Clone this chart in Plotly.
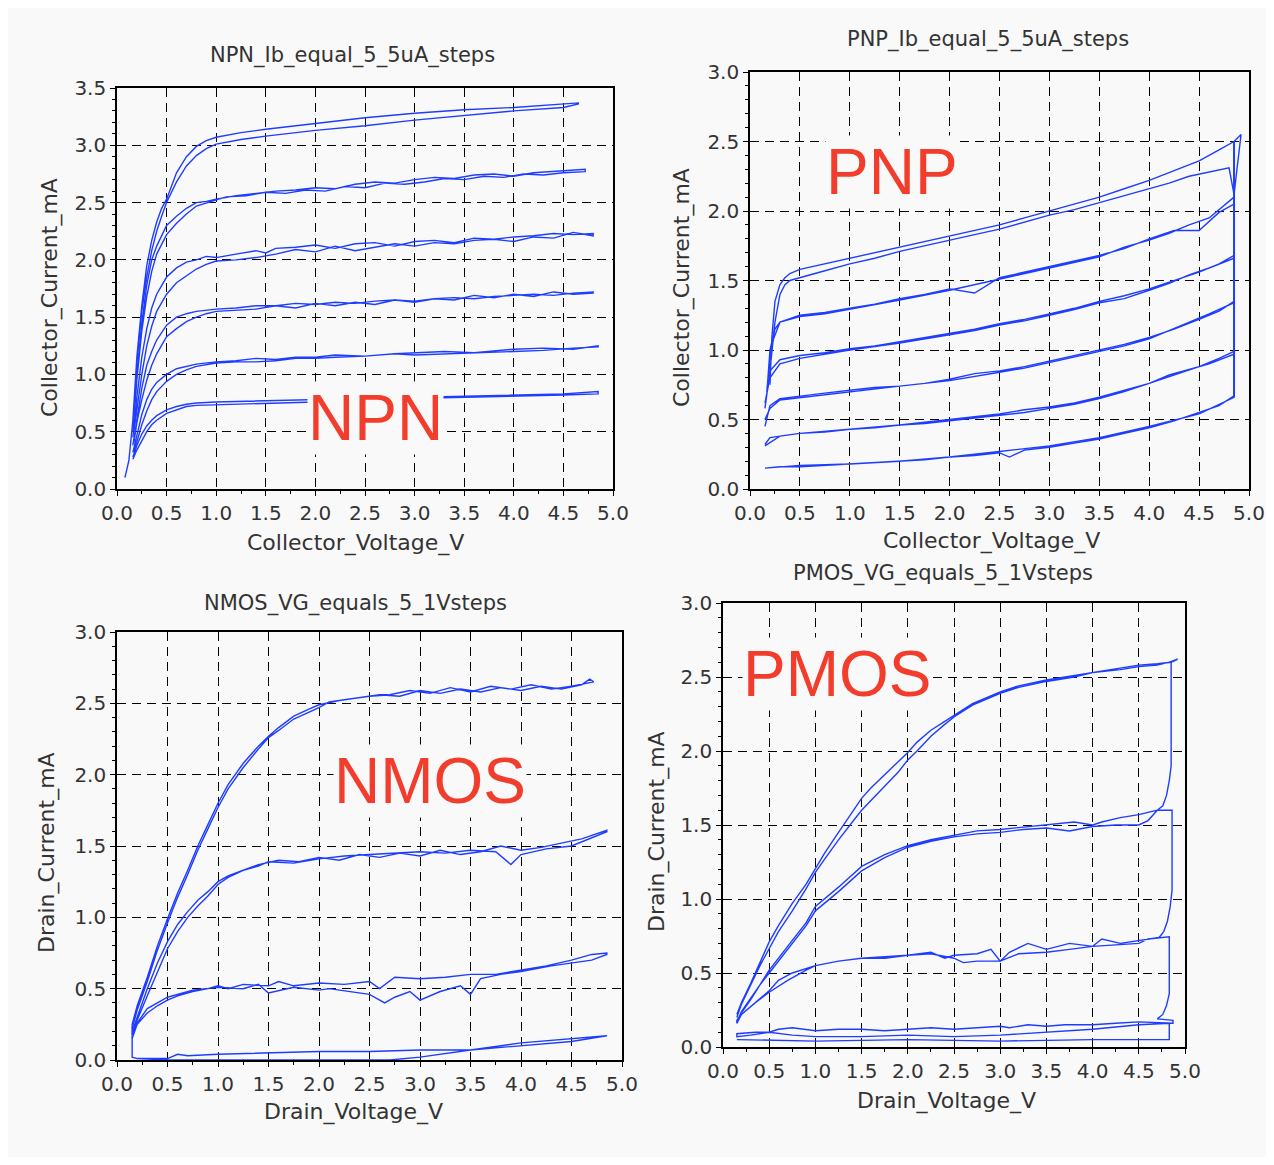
import plotly.graph_objects as go

# ---------------- DATA ----------------
# NPN: collector voltage (V) / collector current (mA); forward (f) and return (r) sweeps
npn1_fv = [0.16,0.2,0.25,0.3,0.35,0.4,0.5,0.6,0.7,0.8,1.0,1.5,2.0,2.5,3.0,3.5,4.0,4.5,4.85]
npn1_fi = [0.28,0.38,0.48,0.55,0.6,0.64,0.69,0.72,0.74,0.75,0.76,0.77,0.78,0.79,0.8,0.81,0.82,0.83,0.85]
npn1_rv = [4.85,4.5,4.0,3.5,3.0,2.5,2.0,1.5,1.0,0.8,0.7,0.6,0.5,0.4,0.35,0.3,0.25,0.2,0.16]
npn1_ri = [0.83,0.82,0.81,0.8,0.79,0.78,0.76,0.75,0.74,0.73,0.72,0.69,0.66,0.6,0.56,0.5,0.42,0.34,0.26]

npn2_fv = [0.16,0.2,0.25,0.3,0.35,0.4,0.5,0.6,0.7,0.8,1.0,1.2,1.4,1.6,1.8,2.0,2.2,2.5,2.8,3.0,3.3,3.6,4.0,4.3,4.6,4.85]
npn2_fi = [0.32,0.48,0.65,0.78,0.87,0.93,1.0,1.05,1.07,1.09,1.11,1.12,1.14,1.13,1.15,1.15,1.17,1.16,1.18,1.19,1.2,1.19,1.22,1.23,1.22,1.25]
npn2_rv = [4.85,4.6,4.3,4.0,3.6,3.3,3.0,2.8,2.5,2.2,2.0,1.8,1.6,1.4,1.2,1.0,0.8,0.7,0.6,0.5,0.4,0.35,0.3,0.25,0.2,0.17]
npn2_ri = [1.24,1.23,1.21,1.2,1.19,1.18,1.17,1.18,1.16,1.15,1.14,1.14,1.12,1.11,1.11,1.1,1.07,1.04,1.0,0.94,0.85,0.78,0.68,0.56,0.42,0.32]

npn3_fv = [0.16,0.2,0.25,0.3,0.35,0.4,0.5,0.6,0.7,0.8,0.9,1.0,1.2,1.4,1.6,1.8,2.0,2.2,2.4,2.6,2.8,3.0,3.2,3.4,3.6,3.8,4.0,4.2,4.4,4.6,4.8]
npn3_fi = [0.38,0.62,0.88,1.08,1.2,1.3,1.43,1.5,1.53,1.55,1.56,1.57,1.58,1.6,1.6,1.62,1.61,1.63,1.62,1.64,1.65,1.64,1.66,1.67,1.66,1.68,1.69,1.7,1.69,1.71,1.72]
npn3_rv = [4.8,4.6,4.4,4.2,4.0,3.8,3.6,3.4,3.2,3.0,2.8,2.6,2.4,2.2,2.0,1.8,1.6,1.4,1.2,1.0,0.9,0.8,0.7,0.6,0.5,0.4,0.35,0.3,0.25,0.2,0.17]
npn3_ri = [1.71,1.7,1.72,1.68,1.7,1.67,1.69,1.65,1.66,1.63,1.65,1.61,1.63,1.6,1.62,1.58,1.6,1.57,1.56,1.55,1.53,1.5,1.46,1.4,1.33,1.18,1.08,0.95,0.78,0.58,0.4]

npn4_fv = [0.16,0.2,0.25,0.3,0.35,0.4,0.5,0.6,0.7,0.8,0.9,1.0,1.2,1.4,1.5,1.6,1.8,2.0,2.2,2.4,2.6,2.8,3.0,3.2,3.4,3.6,3.8,4.0,4.2,4.4,4.6,4.8]
npn4_fi = [0.45,0.8,1.15,1.4,1.58,1.7,1.85,1.93,1.98,2.0,2.03,2.02,2.05,2.08,2.06,2.1,2.11,2.13,2.1,2.14,2.15,2.12,2.16,2.17,2.15,2.19,2.18,2.2,2.21,2.23,2.22,2.23]
npn4_rv = [4.8,4.6,4.4,4.2,4.0,3.8,3.6,3.4,3.2,3.0,2.8,2.6,2.4,2.2,2.0,1.8,1.6,1.4,1.2,1.0,0.9,0.8,0.7,0.6,0.5,0.4,0.35,0.3,0.25,0.2,0.17]
npn4_ri = [2.21,2.24,2.19,2.2,2.16,2.18,2.17,2.14,2.15,2.12,2.14,2.11,2.08,2.12,2.07,2.09,2.05,2.02,2.0,1.99,1.96,1.92,1.86,1.8,1.7,1.55,1.42,1.25,1.0,0.7,0.5]

npn5_fv = [0.16,0.2,0.25,0.3,0.35,0.4,0.5,0.6,0.7,0.8,0.9,1.0,1.2,1.4,1.6,1.8,2.0,2.2,2.4,2.6,2.8,3.0,3.2,3.4,3.6,3.8,4.0,4.2,4.4,4.6,4.72]
npn5_fi = [0.5,1.0,1.45,1.78,2.0,2.12,2.3,2.38,2.45,2.5,2.51,2.53,2.56,2.58,2.6,2.61,2.63,2.62,2.66,2.68,2.67,2.7,2.72,2.71,2.74,2.75,2.73,2.76,2.77,2.78,2.79]
npn5_rv = [4.72,4.5,4.3,4.1,3.9,3.7,3.5,3.3,3.1,2.9,2.7,2.5,2.3,2.1,1.9,1.7,1.5,1.3,1.1,0.9,0.8,0.7,0.6,0.5,0.4,0.35,0.3,0.25,0.2,0.17]
npn5_ri = [2.77,2.76,2.74,2.75,2.72,2.73,2.7,2.71,2.68,2.66,2.67,2.63,2.64,2.6,2.61,2.58,2.59,2.56,2.55,2.5,2.47,2.4,2.32,2.22,2.05,1.9,1.68,1.38,0.95,0.6]

npn6_fv = [0.08,0.12,0.16,0.2,0.25,0.3,0.35,0.4,0.45,0.5,0.6,0.7,0.8,0.9,1.0,1.25,1.5,2.0,2.5,3.0,3.5,4.0,4.5,4.65]
npn6_fi = [0.1,0.25,0.6,1.15,1.6,1.95,2.17,2.33,2.45,2.53,2.76,2.9,2.99,3.04,3.07,3.11,3.14,3.19,3.24,3.28,3.31,3.33,3.36,3.37]
npn6_rv = [4.65,4.5,4.0,3.5,3.0,2.5,2.0,1.5,1.25,1.0,0.9,0.8,0.7,0.6,0.5,0.45,0.4,0.35,0.3,0.25,0.2,0.17]
npn6_ri = [3.36,3.33,3.3,3.26,3.22,3.17,3.13,3.08,3.05,3.01,2.97,2.91,2.82,2.68,2.5,2.38,2.25,2.08,1.85,1.55,1.1,0.7]

# PNP
pnp1_fv = [0.15,0.3,0.5,0.75,1.0,1.25,1.5,1.75,2.0,2.25,2.5,2.6,2.75,3.0,3.25,3.5,3.75,4.0,4.25,4.5,4.7,4.85]
pnp1_fi = [0.15,0.16,0.16,0.17,0.18,0.19,0.2,0.21,0.23,0.24,0.26,0.23,0.28,0.3,0.33,0.36,0.4,0.44,0.49,0.55,0.6,0.67]
pnp1_rv = [4.85,4.5,4.0,3.5,3.0,2.5,2.0,1.5,1.0,0.5,0.15]
pnp1_ri = [0.66,0.54,0.45,0.37,0.31,0.27,0.23,0.2,0.18,0.17,0.15]

pnp2_fv = [0.15,0.2,0.3,0.5,0.75,1.0,1.25,1.5,1.75,2.0,2.25,2.5,2.75,3.0,3.25,3.5,3.75,4.0,4.25,4.5,4.7,4.85]
pnp2_fi = [0.32,0.37,0.38,0.4,0.41,0.43,0.44,0.46,0.47,0.49,0.51,0.53,0.55,0.58,0.61,0.65,0.7,0.76,0.82,0.88,0.94,0.99]
pnp2_rv = [4.85,4.6,4.4,4.2,4.0,3.75,3.5,3.25,3.0,2.75,2.5,2.25,2.0,1.5,1.0,0.5,0.3,0.15]
pnp2_ri = [0.97,0.9,0.86,0.82,0.76,0.71,0.66,0.62,0.59,0.57,0.54,0.52,0.5,0.46,0.43,0.4,0.38,0.31]

pnp3_fv = [0.15,0.2,0.3,0.5,0.75,1.0,1.25,1.5,1.75,2.0,2.25,2.5,2.75,3.0,3.25,3.5,3.75,4.0,4.25,4.5,4.7,4.85]
pnp3_fi = [0.45,0.6,0.65,0.67,0.69,0.71,0.73,0.74,0.76,0.79,0.83,0.85,0.88,0.92,0.96,1.0,1.04,1.09,1.15,1.22,1.28,1.35]
pnp3_rv = [4.85,4.6,4.4,4.2,4.0,3.75,3.5,3.25,3.0,2.75,2.5,2.25,2.0,1.5,1.0,0.75,0.5,0.3,0.2,0.15]
pnp3_ri = [1.34,1.26,1.2,1.14,1.08,1.03,0.99,0.95,0.91,0.87,0.84,0.81,0.78,0.74,0.7,0.68,0.66,0.64,0.58,0.5]

pnp4_fv = [0.15,0.2,0.3,0.5,0.75,1.0,1.25,1.5,1.75,2.0,2.25,2.5,2.75,3.0,3.25,3.5,3.75,4.0,4.25,4.5,4.7,4.85]
pnp4_fi = [0.58,0.85,0.93,0.96,0.98,1.01,1.03,1.06,1.09,1.12,1.15,1.19,1.22,1.26,1.3,1.35,1.39,1.44,1.5,1.56,1.62,1.68]
pnp4_rv = [4.85,4.6,4.4,4.2,4.0,3.75,3.5,3.25,3.0,2.75,2.5,2.25,2.0,1.5,1.0,0.75,0.5,0.3,0.2,0.15]
pnp4_ri = [1.66,1.59,1.54,1.48,1.43,1.37,1.34,1.29,1.25,1.21,1.18,1.14,1.11,1.05,1.0,0.97,0.94,0.9,0.8,0.62]

pnp5_fv = [0.17,0.2,0.25,0.3,0.5,0.75,1.0,1.25,1.5,1.75,2.0,2.25,2.5,2.75,3.0,3.25,3.5,3.75,4.0,4.25,4.5,4.7,4.85]
pnp5_fi = [0.7,1.0,1.15,1.2,1.25,1.27,1.3,1.33,1.37,1.4,1.44,1.41,1.52,1.56,1.6,1.64,1.68,1.73,1.8,1.86,1.86,1.99,2.05]
pnp5_rv = [4.85,4.6,4.4,4.2,4.0,3.75,3.5,3.25,3.0,2.75,2.5,2.25,2.0,1.5,1.0,0.75,0.5,0.3,0.22,0.17]
pnp5_ri = [2.1,1.95,1.9,1.84,1.79,1.74,1.67,1.63,1.59,1.55,1.51,1.47,1.43,1.36,1.29,1.26,1.24,1.2,1.05,0.72]

pnp6_fv = [0.2,0.22,0.25,0.3,0.35,0.4,0.5,0.75,1.0,1.25,1.5,1.75,2.0,2.25,2.5,2.75,3.0,3.25,3.5,3.75,4.0,4.25,4.5,4.7,4.85,4.92]
pnp6_fi = [0.75,1.1,1.35,1.47,1.52,1.55,1.58,1.62,1.66,1.7,1.74,1.78,1.82,1.86,1.9,1.95,2.0,2.05,2.1,2.16,2.22,2.29,2.36,2.44,2.5,2.55]
pnp6_rv = [4.85,4.8,4.6,4.4,4.2,4.0,3.75,3.5,3.25,3.0,2.75,2.5,2.25,2.0,1.75,1.5,1.25,1.0,0.75,0.5,0.4,0.35,0.3,0.25,0.2]
pnp6_ri = [2.12,2.31,2.28,2.25,2.2,2.16,2.11,2.06,2.01,1.97,1.92,1.87,1.83,1.79,1.75,1.71,1.66,1.62,1.57,1.52,1.5,1.47,1.4,1.2,0.85]

pnp_step_v = [4.85,4.85]
pnp_step_i = [0.66,2.5]

# NMOS: drain voltage (V) / drain current (mA)
nmos1_fv = [0.15,0.2,0.3,0.4,0.5,0.6,0.7,0.8,0.9,1.0,1.1,1.25,1.4,1.5,1.6,1.75,1.9,2.0,2.2,2.4,2.6,2.8,3.0,3.2,3.4,3.6,3.8,4.0,4.2,4.4,4.6,4.68,4.72]
nmos1_fi = [0.25,0.38,0.58,0.8,0.99,1.17,1.33,1.5,1.65,1.8,1.93,2.08,2.2,2.27,2.33,2.41,2.46,2.49,2.52,2.54,2.56,2.55,2.59,2.57,2.6,2.58,2.61,2.59,2.62,2.6,2.63,2.67,2.65]
nmos1_rv = [4.72,4.5,4.3,4.1,3.9,3.7,3.5,3.3,3.1,2.9,2.7,2.5,2.3,2.1,2.0,1.9,1.75,1.6,1.5,1.4,1.25,1.1,1.0,0.9,0.8,0.7,0.6,0.5,0.4,0.3,0.2,0.15]
nmos1_ri = [2.65,2.62,2.6,2.63,2.6,2.62,2.58,2.61,2.57,2.59,2.56,2.55,2.53,2.51,2.47,2.44,2.39,2.31,2.26,2.18,2.05,1.9,1.77,1.62,1.47,1.3,1.14,0.96,0.77,0.55,0.35,0.22]

nmos2_fv = [0.15,0.2,0.3,0.4,0.5,0.6,0.7,0.8,0.9,1.0,1.1,1.25,1.4,1.5,1.75,2.0,2.25,2.5,2.75,3.0,3.25,3.5,3.75,3.9,4.0,4.25,4.5,4.7,4.85]
nmos2_fi = [0.18,0.28,0.45,0.62,0.78,0.9,1.0,1.08,1.15,1.23,1.28,1.33,1.36,1.39,1.38,1.41,1.43,1.44,1.45,1.46,1.45,1.47,1.46,1.37,1.44,1.48,1.5,1.56,1.6]
nmos2_rv = [4.85,4.6,4.4,4.2,4.0,3.8,3.6,3.4,3.2,3.0,2.8,2.6,2.4,2.2,2.0,1.8,1.6,1.4,1.25,1.1,1.0,0.9,0.8,0.7,0.6,0.5,0.4,0.3,0.2,0.15]
nmos2_ri = [1.61,1.55,1.52,1.49,1.47,1.5,1.46,1.44,1.47,1.43,1.45,1.42,1.44,1.4,1.42,1.39,1.4,1.37,1.33,1.29,1.25,1.18,1.12,1.04,0.95,0.83,0.68,0.5,0.3,0.2]

nmos3_fv = [0.15,0.2,0.3,0.4,0.5,0.6,0.75,0.9,1.0,1.1,1.25,1.5,1.6,1.75,2.0,2.25,2.5,2.6,2.75,3.0,3.25,3.5,3.75,4.0,4.25,4.5,4.7,4.85]
nmos3_fi = [0.15,0.25,0.33,0.38,0.42,0.45,0.48,0.5,0.52,0.5,0.53,0.52,0.55,0.52,0.54,0.53,0.55,0.5,0.58,0.57,0.58,0.6,0.6,0.63,0.66,0.7,0.74,0.75]
nmos3_rv = [4.85,4.7,4.5,4.3,4.0,3.8,3.6,3.5,3.4,3.2,3.0,2.9,2.75,2.65,2.5,2.3,2.1,2.0,1.75,1.5,1.4,1.25,1.0,0.75,0.5,0.3,0.2,0.15]
nmos3_ri = [0.74,0.7,0.68,0.66,0.62,0.6,0.57,0.46,0.52,0.48,0.42,0.48,0.44,0.4,0.46,0.48,0.5,0.49,0.51,0.47,0.53,0.5,0.51,0.49,0.44,0.36,0.26,0.18]

nmos4_fv = [0.15,0.15,0.2,0.5,0.6,0.7,1.0,1.5,2.0,2.5,3.0,3.5,4.0,4.5,4.85]
nmos4_fi = [0.25,0.02,0.01,0.01,0.04,0.03,0.04,0.05,0.06,0.06,0.07,0.07,0.1,0.13,0.17]
nmos4_rv = [4.85,4.5,4.0,3.5,3.0,2.7,2.5,2.0,1.5,1.0,0.5,0.2]
nmos4_ri = [0.17,0.15,0.12,0.07,0.02,0.0,0.0,0.0,0.0,0.0,0.0,0.01]

# PMOS
pmos1_fv = [0.15,0.2,0.3,0.4,0.5,0.6,0.75,0.9,1.0,1.1,1.25,1.4,1.5,1.6,1.75,1.9,2.0,2.1,2.25,2.4,2.5,2.7,3.0,3.2,3.5,3.8,4.0,4.3,4.5,4.7,4.85,4.92]
pmos1_fi = [0.22,0.3,0.43,0.57,0.71,0.82,0.97,1.1,1.21,1.31,1.45,1.59,1.68,1.75,1.84,1.93,1.99,2.06,2.14,2.2,2.24,2.32,2.4,2.44,2.48,2.51,2.53,2.56,2.58,2.59,2.6,2.62]
pmos1_rv = [4.83,4.7,4.5,4.3,4.0,3.8,3.5,3.2,3.0,2.7,2.5,2.4,2.25,2.1,2.0,1.9,1.75,1.6,1.5,1.4,1.25,1.1,1.0,0.9,0.75,0.6,0.5,0.4,0.3,0.2,0.15]
pmos1_ri = [2.6,2.58,2.57,2.55,2.53,2.5,2.47,2.43,2.39,2.31,2.23,2.18,2.1,2.0,1.94,1.86,1.76,1.66,1.6,1.52,1.4,1.27,1.18,1.07,0.92,0.78,0.67,0.55,0.42,0.29,0.2]

pmos2_rv = [4.85,4.85,4.83,4.8,4.76,4.7,4.5,4.3,4.1,4.0,3.8,3.5,3.2,3.0,2.75,2.5,2.25,2.0,1.75,1.5,1.25,1.0,0.9,0.75,0.6,0.5,0.4,0.3,0.2,0.15]
pmos2_ri = [2.6,1.9,1.8,1.7,1.63,1.6,1.57,1.55,1.52,1.5,1.52,1.5,1.48,1.47,1.46,1.43,1.4,1.36,1.3,1.22,1.08,0.95,0.84,0.72,0.6,0.52,0.42,0.32,0.23,0.18]
pmos2_fv = [0.15,0.2,0.3,0.4,0.5,0.6,0.75,0.9,1.0,1.25,1.5,1.75,2.0,2.25,2.5,2.75,3.0,3.25,3.5,3.75,4.0,4.25,4.5,4.6,4.7,4.86,4.86,4.84,4.81,4.77,4.72]
pmos2_fi = [0.17,0.24,0.33,0.42,0.5,0.58,0.7,0.82,0.92,1.05,1.19,1.28,1.35,1.39,1.42,1.44,1.45,1.47,1.48,1.46,1.49,1.5,1.5,1.53,1.6,1.6,1.06,0.95,0.85,0.78,0.74]

pmos3_rv = [4.72,4.5,4.3,4.1,4.0,3.75,3.5,3.3,3.1,3.0,2.9,2.75,2.5,2.4,2.25,2.0,1.75,1.5,1.25,1.0,0.75,0.6,0.5,0.35,0.2,0.15]
pmos3_ri = [0.74,0.72,0.7,0.73,0.68,0.7,0.66,0.7,0.64,0.58,0.66,0.63,0.62,0.6,0.64,0.62,0.6,0.6,0.58,0.55,0.5,0.45,0.38,0.3,0.22,0.17]
pmos3_fv = [0.15,0.2,0.35,0.5,0.7,0.9,1.0,1.25,1.5,1.75,2.0,2.25,2.5,2.6,2.75,3.0,3.2,3.5,3.75,4.0,4.25,4.5,4.6,4.83,4.83,4.8,4.76,4.7]
pmos3_fi = [0.16,0.22,0.3,0.37,0.45,0.52,0.55,0.58,0.6,0.61,0.62,0.63,0.6,0.57,0.58,0.58,0.63,0.64,0.66,0.68,0.69,0.7,0.73,0.745,0.36,0.28,0.22,0.19]

pmos4_rv = [4.7,4.87,4.87,4.5,4.25,4.0,3.7,3.5,3.3,3.1,3.0,2.75,2.5,2.25,2.0,1.75,1.5,1.25,1.0,0.75,0.6,0.5,0.35,0.15]
pmos4_ri = [0.19,0.18,0.16,0.17,0.16,0.15,0.15,0.14,0.15,0.13,0.14,0.13,0.12,0.13,0.12,0.11,0.12,0.12,0.11,0.13,0.12,0.1,0.1,0.09]
pmos4_fv = [0.15,0.3,0.5,0.75,1.0,1.5,2.0,2.5,3.0,3.5,4.0,4.5,4.8,4.83,4.83,4.0,3.0,2.0,1.0,0.15]
pmos4_fi = [0.07,0.08,0.1,0.08,0.07,0.07,0.08,0.07,0.08,0.1,0.12,0.15,0.16,0.16,0.05,0.05,0.04,0.05,0.04,0.05]

# ---------------- LAYOUT HELPERS ----------------
W, H, OFF = 1258, 1149, 8
def px(x):
    return (x - OFF) / W
def py(y):
    return 1 - (y - OFF) / H

BLUE = "#1f3dff"
RED = "#f23d2c"
BG = "#f9f9f9"
TXT = "#333333"
FONT = "DejaVu Sans"

fig = go.Figure()

def add_curve(v, i, ax, width=1.4):
    n = min(len(v), len(i))
    fig.add_trace(go.Scatter(x=v[:n], y=i[:n], mode="lines", xaxis="x" + ax, yaxis="y" + ax,
                             line=dict(color=BLUE, width=width), showlegend=False, hoverinfo="skip"))

def loop(fv, fi, rv, ri):
    n1 = min(len(fv), len(fi)); n2 = min(len(rv), len(ri))
    return fv[:n1] + rv[:n2], fi[:n1] + ri[:n2]

# NPN (axis 1)
for fv, fi, rv, ri in [(npn1_fv, npn1_fi, npn1_rv, npn1_ri), (npn2_fv, npn2_fi, npn2_rv, npn2_ri),
                       (npn3_fv, npn3_fi, npn3_rv, npn3_ri), (npn4_fv, npn4_fi, npn4_rv, npn4_ri),
                       (npn5_fv, npn5_fi, npn5_rv, npn5_ri), (npn6_fv, npn6_fi, npn6_rv, npn6_ri)]:
    v, i = loop(fv, fi, rv, ri)
    add_curve(v, i, "")
# PNP (axis 2)
for fv, fi, rv, ri in [(pnp1_fv, pnp1_fi, pnp1_rv, pnp1_ri), (pnp2_fv, pnp2_fi, pnp2_rv, pnp2_ri),
                       (pnp3_fv, pnp3_fi, pnp3_rv, pnp3_ri), (pnp4_fv, pnp4_fi, pnp4_rv, pnp4_ri),
                       (pnp5_fv, pnp5_fi, pnp5_rv, pnp5_ri), (pnp6_fv, pnp6_fi, pnp6_rv, pnp6_ri)]:
    v, i = loop(fv, fi, rv, ri)
    add_curve(v, i, "2")
add_curve(pnp_step_v, pnp_step_i, "2", width=2)
# NMOS (axis 3)
for fv, fi, rv, ri in [(nmos1_fv, nmos1_fi, nmos1_rv, nmos1_ri), (nmos2_fv, nmos2_fi, nmos2_rv, nmos2_ri),
                       (nmos3_fv, nmos3_fi, nmos3_rv, nmos3_ri), (nmos4_fv, nmos4_fi, nmos4_rv, nmos4_ri)]:
    v, i = loop(fv, fi, rv, ri)
    add_curve(v, i, "3")
# PMOS (axis 4)
v, i = loop(pmos1_fv, pmos1_fi, pmos1_rv, pmos1_ri); add_curve(v, i, "4")
v, i = loop(pmos2_rv, pmos2_ri, pmos2_fv, pmos2_fi); add_curve(v, i, "4")
v, i = loop(pmos3_rv, pmos3_ri, pmos3_fv, pmos3_fi); add_curve(v, i, "4")
v, i = loop(pmos4_rv, pmos4_ri, pmos4_fv, pmos4_fi); add_curve(v, i, "4")

# ---------------- AXES ----------------
def common():
    return dict(dtick=0.5, tickformat=".1f", automargin=False,
                showgrid=True, gridcolor="black", gridwidth=1.2, griddash="9px,6px",
                showline=True, linecolor="black", linewidth=1.6, mirror=True,
                ticks="outside", ticklen=5, tickcolor="black", zeroline=False,
                tickfont=dict(family=FONT, size=20, color=TXT), fixedrange=True)

def xaxis(dom, anchor):
    d = common()
    d.update(domain=dom, anchor=anchor, range=[0, 5],
             minor=dict(dtick=0.25, ticks="outside", ticklen=3, tickcolor="black", showgrid=False))
    return d

def yaxis(dom, anchor, top):
    d = common()
    d.update(domain=dom, anchor=anchor, range=[0, top],
             minor=dict(dtick=0.1, ticks="outside", ticklen=3, tickcolor="black", showgrid=False))
    return d

panels = {
    "": ([px(117), px(613)], [py(489), py(88)], 3.5),
    "2": ([px(750), px(1249)], [py(489), py(72)], 3.0),
    "3": ([px(117), px(622)], [py(1060), py(632)], 3.0),
    "4": ([px(723), px(1185)], [py(1047), py(603)], 3.0),
}
layout_axes = {}
for k, (xd, yd, top) in panels.items():
    layout_axes["xaxis" + k] = xaxis(xd, "y" + k)
    layout_axes["yaxis" + k] = yaxis(yd, "x" + k, top)

# ---------------- TEXT ----------------
ann = []
def text(x, y, s, size=21, angle=0, color=TXT, family=FONT, bg=None):
    d = dict(x=px(x), y=py(y), xref="paper", yref="paper", text=s, showarrow=False,
             xanchor="center", yanchor="middle", textangle=angle,
             font=dict(family=family, size=size, color=color))
    if bg:
        d.update(bgcolor=bg, borderpad=0)
    ann.append(d)

text(352, 55, "NPN_Ib_equal_5_5uA_steps", size=21)
text(988, 40, "PNP_Ib_equal_5_5uA_steps", size=21)
text(355, 603, "NMOS_VG_equals_5_1Vsteps", size=21)
text(943, 573, "PMOS_VG_equals_5_1Vsteps", size=21)
text(356, 543, "Collector_Voltage_V", size=22)
text(991, 541, "Collector_Voltage_V", size=22)
text(353, 1112, "Drain_Voltage_V", size=22)
text(946, 1101, "Drain_Voltage_V", size=22)
text(50, 298, "Collector_Current_mA", angle=-90, size=22)
text(682, 288, "Collector_Current_mA", angle=-90, size=22)
text(47, 853, "Drain_Current_mA", angle=-90, size=22)
text(657, 832, "Drain_Current_mA", angle=-90, size=22)

for (x, y, s) in [(375, 418, "NPN"), (892, 172, "PNP"), (430, 781, "NMOS"), (837, 674, "PMOS")]:
    text(x, y, s, size=64, color=RED, family="Liberation Sans", bg=BG)

fig.update_layout(width=W, height=H, margin=dict(l=0, r=0, t=0, b=0),
                  paper_bgcolor=BG, plot_bgcolor=BG, showlegend=False,
                  annotations=ann, **layout_axes)

fig.write_html("out.html")
